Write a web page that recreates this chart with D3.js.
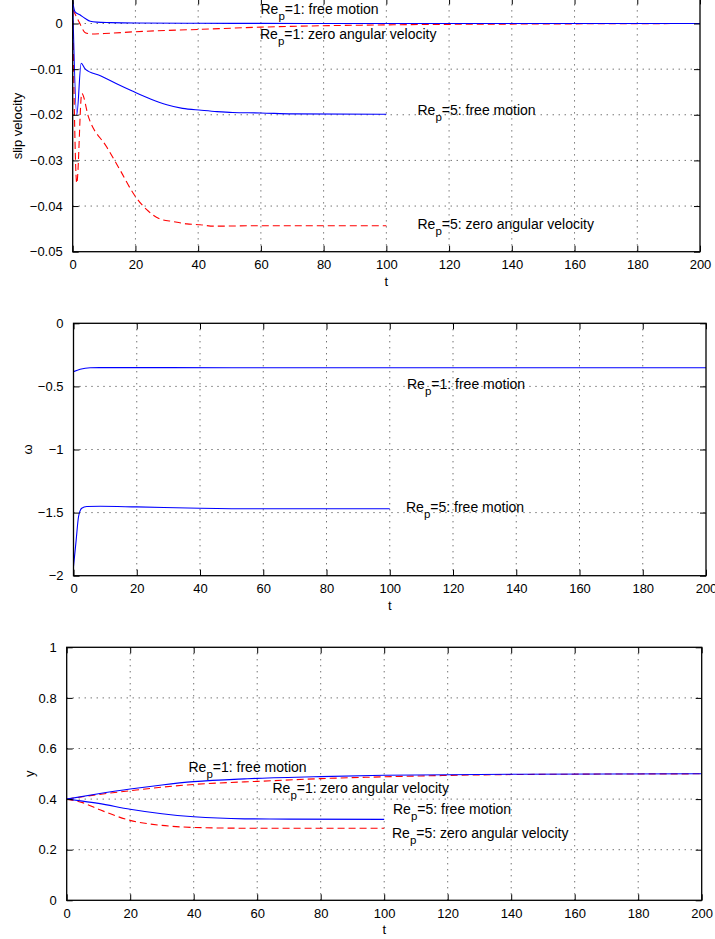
<!DOCTYPE html>
<html>
<head>
<meta charset="utf-8">
<script src="https://cdn.jsdelivr.net/npm/d3@7"></script>
<style>
  body { margin: 0; background: #fff; }
  svg { display: block; }
  text { font-family: "Liberation Sans", Arial, Helvetica, sans-serif; fill: #000; }
</style>
</head>
<body>
<svg id="fig" width="715" height="939"></svg>
<script>
// ---- data ----
const xTicks = [0, 20, 40, 60, 80, 100, 120, 140, 160, 180, 200];
const slipTicks = [-0.05, -0.04, -0.03, -0.02, -0.01, 0];
const omegaTicks = [-2, -1.5, -1, -0.5, 0];
const yPosTicks = [0, 0.2, 0.4, 0.6, 0.8, 1];

// slip velocity
const slipT_re1Free = [0, 0.7, 2.3, 4, 5.6, 7.7, 12, 20, 40, 60, 100, 150, 200];
const slipV_re1Free = [0.0048, 0.0026, 0.0019, 0.0011, 0.0005, 0.0003, 0.0002, 0.0001, 0.00005, 0.00003, 0, 0, 0];
const slipT_re1Zero = [0, 0.5, 2, 4, 6, 10, 20, 40, 60, 100, 150, 200];
const slipV_re1Zero = [0.003, 0.0024, 0.0004, -0.0020, -0.0023, -0.0022, -0.0018, -0.0013, -0.0008, -0.0003, -0.0001, 0];
const slipT_re5Free = [0, 1.3, 2.7, 4, 9, 14, 19, 25, 30, 35, 41, 46, 51, 60, 70, 100];
const slipV_re5Free = [0.005, -0.020, -0.0087, -0.0100, -0.0115, -0.0132, -0.0148, -0.0166, -0.0178, -0.0186, -0.0190, -0.0193, -0.0195, -0.0196, -0.0198, -0.0199];
const slipT_re5Zero = [0, 1.3, 2.9, 5, 10.8, 15.1, 19.3, 23.6, 27.8, 32.1, 36.4, 40.6, 45, 60, 100];
const slipV_re5Zero = [0.003, -0.035, -0.0153, -0.0204, -0.0270, -0.0321, -0.0372, -0.0408, -0.0428, -0.0434, -0.0439, -0.0441, -0.0444, -0.0443, -0.0443];

// angular velocity
const omegaT_re1 = [0, 2.1, 5.3, 10, 50, 100, 150, 200];
const omegaV_re1 = [-0.383, -0.364, -0.352, -0.351, -0.352, -0.352, -0.352, -0.352];
const omegaT_re5 = [0, 0.85, 1.6, 2.6, 4.2, 8.5, 20, 40, 60, 100];
const omegaV_re5 = [-1.927, -1.716, -1.531, -1.465, -1.452, -1.450, -1.455, -1.465, -1.470, -1.470];

// y position
const yT_re1 = [0, 10, 20, 30, 40, 56, 60, 80, 100, 140, 200];
const yV_re1Free = [0.4, 0.421, 0.440, 0.456, 0.469, 0.480, 0.482, 0.489, 0.494, 0.498, 0.5];
const yV_re1Zero = [0.4, 0.418, 0.433, 0.447, 0.458, 0.468, 0.470, 0.481, 0.488, 0.497, 0.5];
const yT_re5 = [0, 5, 10, 20, 30, 40, 56, 70, 100];
const yV_re5Free = [0.4, 0.392, 0.383, 0.360, 0.342, 0.330, 0.322, 0.321, 0.320];
const yV_re5Zero = [0.4, 0.386, 0.360, 0.316, 0.296, 0.288, 0.285, 0.285, 0.285];

const zip = (a, b) => a.map((v, i) => [v, b[i]]);

const BLUE = "#0000ff", RED = "#ff0000";

const panels = [
  {
    left: 72.7, right: 700, top: -1.6, bottom: 251.7,
    yDomain: [-0.05, 0.0055], yTicks: slipTicks, ylabel: "slip velocity", ylabelX: 22,
    series: [
      { pts: zip(slipT_re1Zero, slipV_re1Zero), color: RED, dash: true },
      { pts: zip(slipT_re5Zero, slipV_re5Zero), color: RED, dash: true },
      { pts: zip(slipT_re1Free, slipV_re1Free), color: BLUE },
      { pts: zip(slipT_re5Free, slipV_re5Free), color: BLUE }
    ],
    notes: [
      { x: 260.5, y: 13.5, re: "1", txt: ": free motion" },
      { x: 260, y: 39, re: "1", txt: ": zero angular velocity" },
      { x: 417.5, y: 115, re: "5", txt: ": free motion" },
      { x: 417.5, y: 229, re: "5", txt: ": zero angular velocity" }
    ]
  },
  {
    left: 73.5, right: 706, top: 323.3, bottom: 575.7,
    yDomain: [-2, 0], yTicks: omegaTicks, ylabel: "\u03c9", ylabelX: 32,
    series: [
      { pts: zip(omegaT_re1, omegaV_re1), color: BLUE },
      { pts: zip(omegaT_re5, omegaV_re5), color: BLUE }
    ],
    notes: [
      { x: 407, y: 389, re: "1", txt: ": free motion" },
      { x: 406, y: 512, re: "5", txt: ": free motion" }
    ]
  },
  {
    left: 66.7, right: 701.7, top: 647.3, bottom: 900.3,
    yDomain: [0, 1], yTicks: yPosTicks, ylabel: "y", ylabelX: 34,
    series: [
      { pts: zip(yT_re1, yV_re1Zero), color: RED, dash: true },
      { pts: zip(yT_re5, yV_re5Zero), color: RED, dash: true },
      { pts: zip(yT_re1, yV_re1Free), color: BLUE },
      { pts: zip(yT_re5, yV_re5Free), color: BLUE }
    ],
    notes: [
      { x: 188.5, y: 772, re: "1", txt: ": free motion" },
      { x: 272.5, y: 792.5, re: "1", txt: ": zero angular velocity" },
      { x: 393, y: 813.5, re: "5", txt: ": free motion" },
      { x: 392, y: 837.5, re: "5", txt: ": zero angular velocity" }
    ]
  }
];

const svg = d3.select("#fig");
const fmt = d => String(+d.toFixed(2)).replace("-", "\u2212");

panels.forEach(p => {
  const x = d3.scaleLinear().domain([0, 200]).range([p.left, p.right]);
  const y = d3.scaleLinear().domain(p.yDomain).range([p.bottom, p.top]);
  const g = svg.append("g");

  // dotted grid
  g.append("g").selectAll("line").data(xTicks.slice(1, -1)).join("line")
    .attr("x1", d => x(d)).attr("x2", d => x(d))
    .attr("y1", p.top).attr("y2", p.bottom)
    .attr("stroke", "#000").attr("stroke-width", 0.8).attr("stroke-dasharray", "1,5");
  g.append("g").selectAll("line").data(p.yTicks.filter(d => d !== p.yDomain[0] && y(d) > p.top + 1)).join("line")
    .attr("y1", d => y(d)).attr("y2", d => y(d))
    .attr("x1", p.left).attr("x2", p.right)
    .attr("stroke", "#000").attr("stroke-width", 0.8).attr("stroke-dasharray", "1,5");

  // curves
  const line = d3.line().x(d => x(d[0])).y(d => y(d[1])).curve(d3.curveMonotoneX);
  p.series.forEach(s => {
    g.append("path").attr("d", line(s.pts))
      .attr("fill", "none").attr("stroke", s.color).attr("stroke-width", 1.1)
      .attr("stroke-dasharray", s.dash ? "7,4" : null);
  });

  // axes, ticks inward on every side
  g.append("g").attr("transform", `translate(0,${p.bottom})`)
    .call(d3.axisBottom(x).tickValues(xTicks).tickSize(-6).tickPadding(8).tickFormat(fmt));
  g.append("g").attr("transform", `translate(0,${p.top})`)
    .call(d3.axisTop(x).tickValues(xTicks).tickSize(-6).tickFormat(""));
  g.append("g").attr("transform", `translate(${p.left},0)`)
    .call(d3.axisLeft(y).tickValues(p.yTicks).tickSize(-6).tickPadding(10).tickFormat(fmt));
  g.append("g").attr("transform", `translate(${p.right},0)`)
    .call(d3.axisRight(y).tickValues(p.yTicks).tickSize(-6).tickFormat(""));
  g.selectAll(".domain").remove();
  g.selectAll(".tick line").attr("stroke", "#000").attr("stroke-width", 1);
  g.selectAll(".tick text").style("font-size", "13px").attr("fill", "#000")
    .style("font-family", "'Liberation Sans', Arial, sans-serif");

  g.append("rect")
    .attr("x", p.left).attr("y", p.top)
    .attr("width", p.right - p.left).attr("height", p.bottom - p.top)
    .attr("fill", "none").attr("stroke", "#000").attr("stroke-width", 1.3);

  // axis labels
  g.append("text").attr("x", (p.left + p.right) / 2).attr("y", p.bottom + 34)
    .attr("text-anchor", "middle").style("font-size", "13px").text("t");
  g.append("text")
    .attr("transform", `translate(${p.ylabelX},${(p.top + p.bottom) / 2 + (p.top < 0 ? 1 : 0)}) rotate(-90)`)
    .attr("text-anchor", "middle").style("font-size", "13px").text(p.ylabel);

  // annotations
  p.notes.forEach(n => {
    const t = g.append("text").attr("x", n.x).attr("y", n.y).style("font-size", "14px");
    t.append("tspan").text("Re");
    t.append("tspan").attr("dy", 6).style("font-size", "11.5px").text("p");
    t.append("tspan").attr("dy", -6).text("=" + n.re + n.txt);
  });
});
</script>
</body>
</html>
